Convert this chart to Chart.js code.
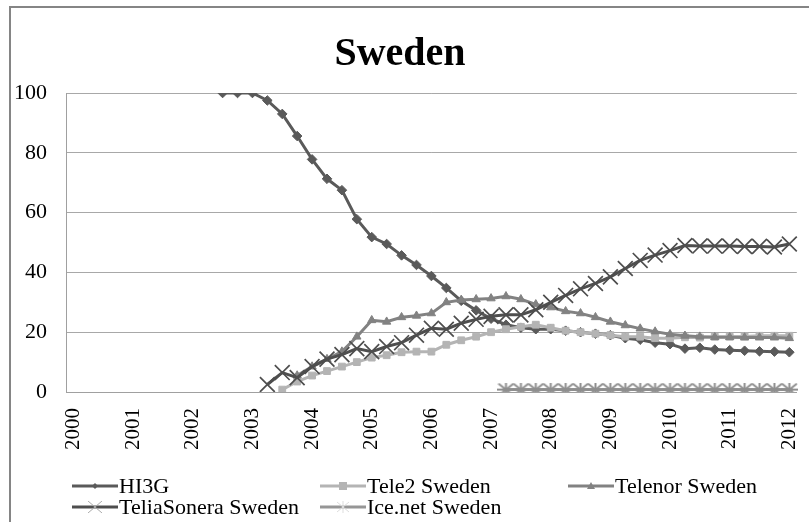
<!DOCTYPE html>
<html>
<head>
<meta charset="utf-8">
<script src="https://cdn.jsdelivr.net/npm/chart.js@4.4.1/dist/chart.umd.min.js"></script>
<style>
    html, body { margin: 0; padding: 0; background: #fff; }
    #wrap { position: relative; width: 809px; height: 522px; overflow: hidden; }
    #frame { position: absolute; left: 9px; top: 6px; width: 820px; height: 540px;
             border-left: 2px solid #858585; border-top: 2px solid #858585; }
    #chart { position: absolute; left: 0; top: 0; }
    .item { position: absolute; height: 22px; display: flex; align-items: center;
            font-family: "Liberation Serif", serif; font-size: 22px; color: #000; white-space: nowrap; }
    .item svg { margin-right: 1px; }
</style>
</head>
<body>
<div id="wrap">
    <div id="frame"></div>
    <canvas id="chart" width="809" height="522"></canvas>
    <div id="legend"></div>
</div>
<script>
// quarters 2000Q1 .. 2012Q1
var quarters = [];
for (var y = 2000; y <= 2012; y++) {
    for (var q = 1; q <= 4; q++) {
        if (y === 2012 && q > 1) break;
        quarters.push(y + "Q" + q);
    }
}
var yearLabels = ["2000", "2001", "2002", "2003", "2004", "2005", "2006",
                  "2007", "2008", "2009", "2010", "2011", "2012"];
var yTicks = [0, 20, 40, 60, 80, 100];

var seriesNames = ["HI3G", "Tele2 Sweden", "Telenor Sweden", "TeliaSonera Sweden", "Ice.net Sweden"];

var hi3g = [null, null, null, null, null, null, null, null, null, null,
    100, 100, 100, 97.5, 93, 85.6, 77.8, 71.3, 67.5, 57.8,
    51.8, 49.5, 45.7, 42.5, 38.8, 34.8, 30.5, 27.3, 24.5, 22.5,
    21.5, 21, 21, 20.5, 20, 19.5, 19, 18, 17.5, 16.5,
    16, 14.5, 14.8, 14.2, 14, 13.8, 13.6, 13.5, 13.3];

var tele2 = [null, null, null, null, null, null, null, null, null, null,
    null, null, null, null, 0.8, 3.5, 5.5, 7, 8.5, 10,
    11.5, 12.3, 13.3, 13.5, 13.5, 15.8, 17.3, 18.5, 20, 21,
    21.8, 22.5, 21.5, 20.5, 20, 19.5, 19, 18.5, 18.5, 18,
    18, 18.3, 18.2, 18.5, 18.5, 18.6, 18.8, 18.8, 18.8];

var telenor = [null, null, null, null, null, null, null, null, null, null,
    null, null, null, null, null, 5.5, 8.5, 11, 13.5, 18.5,
    24, 23.5, 25, 25.5, 26.3, 30, 30.8, 31, 31.3, 32,
    31, 29.3, 28.3, 27, 26.3, 25, 23.5, 22.3, 21.2, 20.2,
    19.3, 18.8, 18.5, 18.3, 18.3, 18.2, 18.2, 18.2, 18];

var teliasonera = [null, null, null, null, null, null, null, null, null, null,
    null, null, null, 2.5, 6.5, 4.8, 8.5, 11, 12.5, 14.5,
    13.5, 15.2, 16.5, 19, 21.3, 21, 23, 24.3, 25.3, 25.8,
    25.8, 27.5, 30, 32.3, 34.5, 36.3, 38.5, 41.3, 44, 45.8,
    47.3, 49, 48.8, 48.8, 48.8, 48.7, 48.7, 48.5, 49.5];

var icenet = [null, null, null, null, null, null, null, null, null, null,
    null, null, null, null, null, null, null, null, null, null,
    null, null, null, null, null, null, null, null, null, 0.8,
    0.8, 0.8, 0.8, 0.8, 0.8, 0.8, 0.8, 0.8, 0.8, 0.8,
    0.8, 0.8, 0.8, 0.8, 0.8, 0.8, 0.8, 0.8, 0.8];

var serif = "'Liberation Serif', 'Times New Roman', serif";

// wide asterisk marker like the Excel one
function makeAsterisk(color) {
    var c = document.createElement("canvas");
    c.width = 17;
    c.height = 14;
    var g = c.getContext("2d");
    g.strokeStyle = color;
    g.lineWidth = 2;
    g.beginPath();
    g.moveTo(1, 1); g.lineTo(16, 13);
    g.moveTo(16, 1); g.lineTo(1, 13);
    g.moveTo(8.5, 0); g.lineTo(8.5, 14);
    g.moveTo(0, 7); g.lineTo(17, 7);
    g.stroke();
    return c;
}

function series(label, data, color, style, radius, bw, order) {
    return {
        label: label,
        data: data,
        borderColor: color,
        backgroundColor: color,
        borderWidth: 3,
        pointStyle: style,
        pointRadius: radius,
        pointBorderWidth: bw,
        pointBackgroundColor: color,
        pointBorderColor: color,
        tension: 0,
        order: order
    };
}

var datasets = [
    series(seriesNames[0], hi3g, "#5a5a5a", "rectRot", 4.8, 1, 4),
    series(seriesNames[1], tele2, "#b4b4b4", "rect", 4.8, 1, 3),
    series(seriesNames[2], telenor, "#828282", "triangle", 4.8, 1, 2),
    series(seriesNames[3], teliasonera, "#4e4e4e", "crossRot", 10.5, 1.7, 1),
    series(seriesNames[4], icenet, "#969696", makeAsterisk("#8e8e8e"), 8, 1.8, 0)
];

var ctx = document.getElementById("chart").getContext("2d");
var myChart = new Chart(ctx, {
    type: "line",
    data: { labels: quarters, datasets: datasets },
    options: {
        responsive: false,
        animation: false,
        layout: { padding: { left: 0, right: 9, top: 0, bottom: 0 } },
        plugins: {
            legend: { display: false },
            tooltip: { enabled: false },
            title: {
                display: true,
                text: "Sweden",
                color: "#000",
                font: { family: serif, size: 40, weight: "bold", lineHeight: 1.2 },
                padding: { top: 31, bottom: 14 }
            }
        },
        scales: {
            x: {
                offset: true,
                grid: { display: false, drawTicks: false },
                border: { display: true, color: "#a0a0a0", width: 1 },
                ticks: {
                    autoSkip: false,
                    minRotation: 90,
                    maxRotation: 90,
                    padding: 16,
                    color: "#000",
                    font: { family: serif, size: 21 },
                    callback: function (value, index) {
                        return index % 4 === 0 ? yearLabels[index / 4] : "";
                    }
                },
                afterFit: function (scale) {
                    scale.height = 130;
                    // keep the plot as wide as the original, labels may overhang
                    scale.paddingLeft = 0;
                    scale.paddingRight = 0;
                }
            },
            y: {
                min: 0,
                max: 100,
                grid: { color: "#a8a8a8", drawTicks: false },
                border: { display: true, color: "#a0a0a0", width: 1 },
                afterBuildTicks: function (scale) {
                    scale.ticks = yTicks.map(function (v) { return { value: v }; });
                },
                ticks: {
                    padding: 19,
                    color: "#000",
                    font: { family: serif, size: 22 }
                },
                afterFit: function (scale) { scale.width = 66; }
            }
        }
    }
});

// legend laid out as in the original grid
var legendPos = [[72, 475], [320, 475], [568, 475], [72, 496], [320, 496]];
var legendStyles = ["rectRot", "rect", "triangle", "crossRot", "star"];
var legendHtml = "";
datasets.forEach(function (ds, i) {
    var c = ds.borderColor;
    var s = legendStyles[i];
    var marker = "";
    if (s === "rectRot") marker = '<polygon points="23,3 26,6 23,9 20,6" fill="' + c + '"/>';
    else if (s === "rect") marker = '<rect x="19" y="2" width="8" height="8" fill="' + c + '"/>';
    else if (s === "triangle") marker = '<polygon points="23,2 27,9 19,9" fill="' + c + '"/>';
    else if (s === "crossRot") marker = '<path d="M16,0 L30,12 M30,0 L16,12" stroke="#aaa" stroke-width="1"/>';
    else marker = '<path d="M17,1 L29,11 M29,1 L17,11 M23,0 L23,12" stroke="#ddd" stroke-width="1"/>';
    legendHtml += '<div class="item" style="left:' + legendPos[i][0] + 'px;top:' + legendPos[i][1] + 'px">' +
        '<svg width="46" height="12"><line x1="0" y1="6" x2="46" y2="6" stroke="' + c + '" stroke-width="3"/>' +
        marker + '</svg>' + ds.label + '</div>';
});
document.getElementById("legend").innerHTML = legendHtml;
</script>
</body>
</html>
